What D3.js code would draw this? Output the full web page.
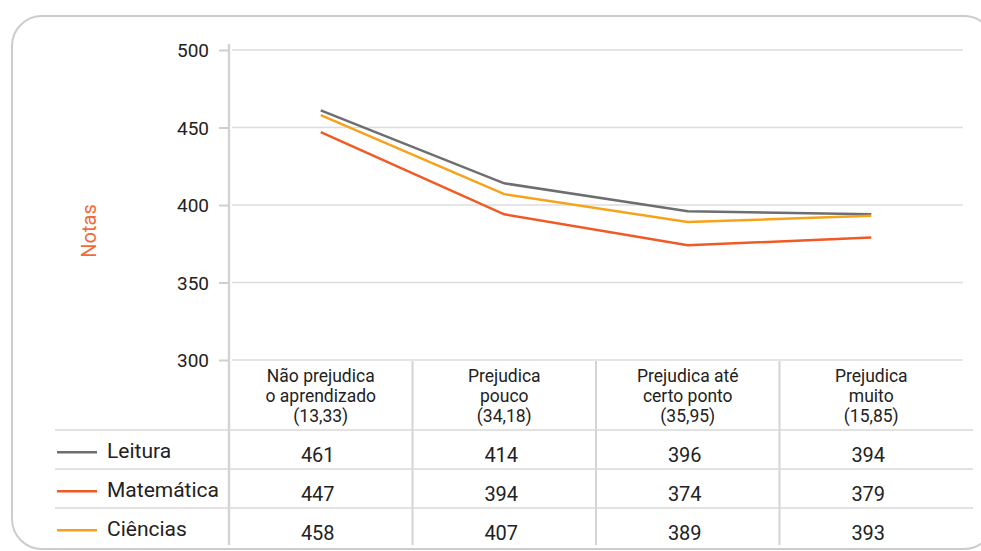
<!DOCTYPE html>
<html>
<head>
<meta charset="utf-8">
<script src="https://cdn.jsdelivr.net/npm/d3@7"></script>
<style>
  body { margin: 0; background: #fff; }
  svg { display: block; font-family: Roboto, "DejaVu Sans", sans-serif; }
</style>
</head>
<body>
<svg id="chart" width="981" height="551"></svg>
<script>
// categories (three text lines each)
var categories = [
  ['Não prejudica', 'o aprendizado', '(13,33)'],
  ['Prejudica', 'pouco', '(34,18)'],
  ['Prejudica até', 'certo ponto', '(35,95)'],
  ['Prejudica', 'muito', '(15,85)']
];
var seriesNames = ['Leitura', 'Matemática', 'Ciências'];
var leitura = [461, 414, 396, 394];
var matematica = [447, 394, 374, 379];
var ciencias = [458, 407, 389, 393];
var yTicks = [300, 350, 400, 450, 500];

var colors = { 'Leitura': '#6d6e71', 'Matemática': '#f15a24', 'Ciências': '#f7a21b' };
var series = [
  { name: 'Leitura', values: leitura },
  { name: 'Matemática', values: matematica },
  { name: 'Ciências', values: ciencias }
];

var svg = d3.select('#chart');

// outer rounded frame
svg.append('rect')
  .attr('x', 12).attr('y', 16)
  .attr('width', 982).attr('height', 533)
  .attr('rx', 30).attr('ry', 30)
  .attr('fill', 'none')
  .attr('stroke', '#cccccc')
  .attr('stroke-width', 2);

var left = 229, right = 963;
var x = d3.scaleBand().domain(d3.range(categories.length)).range([left, right]);
var y = d3.scaleLinear().domain([300, 500]).range([360, 50]);

// gridlines
svg.append('g').selectAll('line').data(yTicks).enter().append('line')
  .attr('x1', left + 3).attr('x2', right)
  .attr('y1', function (d) { return y(d); })
  .attr('y2', function (d) { return y(d); })
  .attr('stroke', '#dcdcdc').attr('stroke-width', 1.5);

// y axis
var yAxis = d3.axisLeft(y).tickValues(yTicks).tickSize(10).tickPadding(10);
var gy = svg.append('g').attr('transform', 'translate(' + left + ',0)').call(yAxis);
gy.select('.domain').remove();
gy.selectAll('.tick line').attr('stroke', '#cfcfcf').attr('stroke-width', 2);
gy.selectAll('.tick text')
  .attr('font-size', 19).attr('fill', '#222').attr('dy', '0.36em')
  .style('font-family', 'Roboto, sans-serif');

svg.append('line')
  .attr('x1', left).attr('x2', left)
  .attr('y1', 44).attr('y2', 545)
  .attr('stroke', '#d4d4d4').attr('stroke-width', 2.5);

// axis title
svg.append('text')
  .attr('transform', 'translate(96,231) rotate(-90)')
  .attr('text-anchor', 'middle')
  .attr('font-size', 20)
  .attr('fill', '#f26a3a')
  .text('Notas');

// lines
var line = d3.line()
  .x(function (d, i) { return x(i) + x.bandwidth() / 2; })
  .y(function (d) { return y(d); });

svg.append('g').selectAll('path').data(series).enter().append('path')
  .attr('d', function (d) { return line(d.values); })
  .attr('fill', 'none')
  .attr('stroke', function (d) { return colors[d.name]; })
  .attr('stroke-width', 2.5);

// table: column separators
svg.append('g').selectAll('line').data(d3.range(1, categories.length)).enter().append('line')
  .attr('x1', function (d) { return x(d); })
  .attr('x2', function (d) { return x(d); })
  .attr('y1', 361).attr('y2', 545)
  .attr('stroke', '#d4d4d4').attr('stroke-width', 2);

// table: row lines
var rowTops = [430, 469, 508];
var rowH = 38.5;
svg.append('g').selectAll('line').data(rowTops).enter().append('line')
  .attr('x1', 55).attr('x2', 973)
  .attr('y1', function (d) { return d; })
  .attr('y2', function (d) { return d; })
  .attr('stroke', '#d9d9d9').attr('stroke-width', 1.5);

// header labels
var header = svg.append('g').selectAll('text').data(categories).enter().append('text')
  .attr('text-anchor', 'middle')
  .attr('font-size', 17.5)
  .attr('fill', '#222')
  .attr('x', function (d, i) { return x(i) + x.bandwidth() / 2; })
  .attr('y', 382);
header.selectAll('tspan').data(function (d) { return d; }).enter().append('tspan')
  .attr('x', function () { return d3.select(this.parentNode).attr('x'); })
  .attr('dy', function (d, i) { return i === 0 ? 0 : 20; })
  .text(function (d) { return d; });

// rows: legend + values
var rows = svg.append('g').selectAll('g').data(series).enter().append('g')
  .attr('transform', function (d, i) { return 'translate(0,' + (rowTops[i] + rowH / 2) + ')'; });

rows.append('line')
  .attr('x1', 57).attr('x2', 97)
  .attr('y1', 3).attr('y2', 3)
  .attr('stroke', function (d) { return colors[d.name]; })
  .attr('stroke-width', 2.5);

rows.append('text')
  .attr('x', 107).attr('y', 9)
  .attr('font-size', 21).attr('fill', '#222')
  .text(function (d) { return d.name; });

rows.selectAll('text.val').data(function (d) { return d.values; }).enter().append('text')
  .attr('class', 'val')
  .attr('text-anchor', 'middle')
  .attr('x', function (d, i) { return x(i) + x.bandwidth() / 2 - 3; })
  .attr('y', 13)
  .attr('font-size', 20).attr('fill', '#222')
  .text(function (d) { return d; });
</script>
</body>
</html>
